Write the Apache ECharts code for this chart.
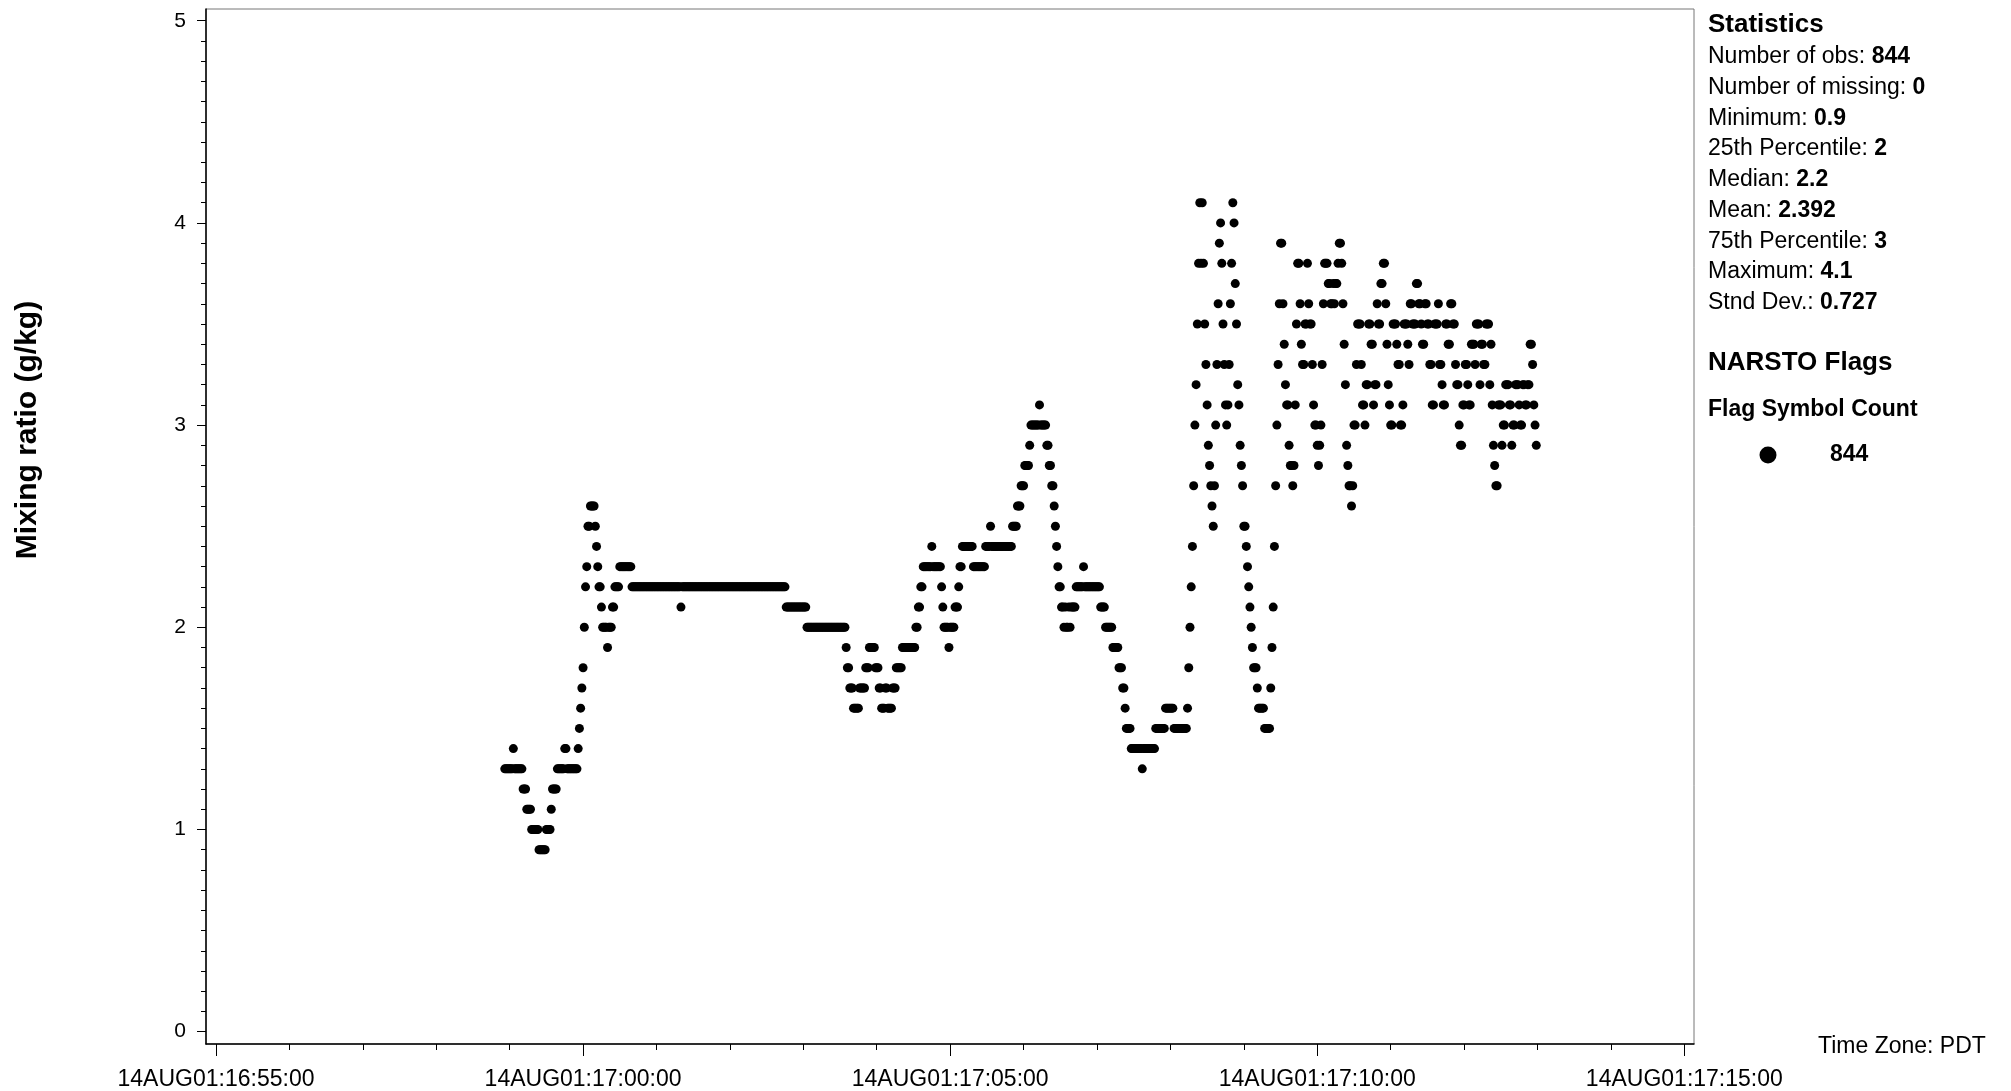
<!DOCTYPE html>
<html>
<head>
<meta charset="utf-8">
<script src="https://cdn.jsdelivr.net/npm/echarts@6/dist/echarts.min.js"></script>
<style>
html,body{margin:0;padding:0;background:#fff;}
#c{width:2011px;height:1091px;}
</style>
</head>
<body>
<div id="c"></div>
<script>
// ---- DATA ----
// observation times: one per second, first at 16:58:56 (seconds after 16:55:00)
const firstObsSec = 236;

const obsSeg1 = [1.3,1.3,1.3,1.3,1.3,1.3,1.3,1.4,1.3,1.3,
1.3,1.3,1.3,1.3,1.3,1.2,1.2,1.2,1.1,1.1,
1.1,1.1,1.0,1.0,1.0,1.0,1.0,1.0,0.9,0.9,
0.9,0.9,0.9,0.9,1.0,1.0,1.0,1.0,1.1,1.2,
1.2,1.2,1.2,1.3,1.3,1.3,1.3,1.3,1.3,1.4,
1.4,1.3,1.3,1.3,1.3,1.3,1.3,1.3,1.3,1.3,
1.4];
const obsSeg2 = [1.5,1.6,1.7,1.8,2.0,2.2,2.3,2.5,2.5,2.6,
2.6,2.6,2.6,2.5,2.4,2.3,2.2,2.2,2.1,2.0,
2.0,2.0,2.0,1.9,2.0,2.0,2.0,2.1,2.1,2.2,
2.2,2.2,2.2,2.3,2.3,2.3,2.3,2.3,2.3,2.3,
2.3,2.3,2.3];
const obsSeg3 = [2.2,2.2,2.2,2.2,2.2,2.2,2.2,2.2,2.2,2.2,
2.2,2.2,2.2,2.2,2.2,2.2,2.2,2.2,2.2,2.2,
2.2,2.2,2.2,2.2,2.2,2.2,2.2,2.2,2.2,2.2,
2.2,2.2,2.2,2.2,2.2,2.2,2.2,2.2,2.2,2.2,
2.1,
2.2,2.2,2.2,2.2,2.2,2.2,2.2,2.2,2.2,2.2,
2.2,2.2,2.2,2.2,2.2,2.2,2.2,2.2,2.2,2.2,
2.2,2.2,2.2,2.2,2.2,2.2,2.2,2.2,2.2,2.2,
2.2,2.2,2.2,2.2,2.2,2.2,2.2,2.2,2.2,2.2,
2.2,2.2,2.2,2.2,2.2,2.2,2.2,2.2,2.2,2.2,
2.2,2.2,2.2,2.2,2.2,2.2,2.2,2.2,2.2,2.2,
2.2,2.2,2.2,2.2,2.2,2.2,2.2,2.2,2.2,2.2,
2.2,2.2,2.2,2.2,2.2,2.2,2.2,2.2,2.2,2.2,
2.2,2.2,2.2,2.2,2.2];
const obsSeg4 = [2.1,2.1,2.1,2.1,2.1,2.1,2.1,2.1,2.1,2.1,
2.1,2.1,2.1,2.1,2.1,2.1,2.1];
const obsSeg5 = [2.0,2.0,2.0,2.0,2.0,2.0,2.0,2.0,2.0,2.0,
2.0,2.0,2.0,2.0,2.0,2.0,2.0,2.0,2.0,2.0,
2.0,2.0,2.0,2.0,2.0,2.0,2.0,2.0,2.0,2.0,
2.0,2.0];
const obsSeg6 = [1.9,1.8,1.8,1.7,1.7,1.7,1.6,1.6,1.6,1.6,
1.6,1.7,1.7,1.7,1.7,1.7,1.8,1.8,1.8,1.9,
1.9,1.9,1.9,1.9,1.8,1.8,1.8,1.7,1.7,1.6,
1.6,1.6,1.7,1.7,1.6,1.6,1.6,1.6,1.7,1.7,
1.7,1.8,1.8,1.8,1.8,1.8,1.9,1.9,1.9,1.9,
1.9,1.9,1.9,1.9,1.9,1.9,1.9];
const obsSeg7 = [2.0,2.0,2.1,2.1,2.2,2.2,2.3,2.3,2.3,2.3,
2.3,2.3,2.3,2.4,2.3,2.3,2.3,2.3,2.3,2.3,
2.3,2.2,2.1,2.0,2.0,2.0,2.0,1.9,2.0,2.0,
2.0,2.0,2.1,2.1,2.1,2.2,2.3,2.3,2.4,2.4,
2.4,2.4,2.4,2.4,2.4,2.4,2.4,2.3,2.3,2.3,
2.3,2.3,2.3,2.3,2.3,2.3,2.3,2.4,2.4,2.4,
2.4,2.5,2.4,2.4,2.4,2.4,2.4,2.4,2.4,2.4,
2.4,2.4,2.4,2.4,2.4,2.4,2.4,2.4,2.4,2.5,
2.5,2.5,2.5,2.6,2.6,2.6,2.7,2.7,2.7,2.8,
2.8,2.8,2.8,2.9,3.0,3.0,3.0,3.0,3.0,3.0,
3.0,3.1,3.0,3.0,3.0,3.0,3.0,2.9,2.9,2.8,
2.8,2.7,2.7,2.6,2.5,2.4,2.3,2.2,2.2,2.1,
2.1,2.0,2.1,2.0,2.0,2.1,2.0,2.1,2.1,2.1,
2.1,2.2,2.2,2.2,2.2,2.2,2.2,2.3,2.2,2.2,
2.2,2.2,2.2,2.2,2.2,2.2,2.2,2.2,2.2,2.2,
2.2,2.1,2.1,2.1,2.1,2.0,2.0,2.0,2.0,2.0,
2.0,1.9,1.9,1.9,1.9,1.9,1.8,1.8,1.8,1.7,
1.7,1.6,1.5,1.5,1.5,1.5];
const obsSeg8 = [1.4,1.4,1.4,1.4,1.4,1.4,1.4,1.4,1.4,1.3,
1.4,1.4,1.4,1.4,1.4,1.4,1.4,1.4,1.4,1.4,
1.5,1.5,1.5,1.5,1.5,1.5,1.5,1.5,1.6,1.6,
1.6,1.6,1.6,1.6,1.6,1.5,1.5,1.5,1.5,1.5,
1.5,1.5,1.5,1.5,1.5,1.5];
const obsSeg9 = [1.6,1.8,2.0,2.2,2.4,2.7,3.0,3.2,3.5,3.8,
4.1,3.8,4.1,3.8,3.5,3.3,3.1,2.9,2.8,2.7,
2.6,2.5,2.7,3.0,3.3,3.6,3.9,4.0,3.8,3.5,
3.3,3.1,3.0,3.1,3.3,3.6,3.8,4.1,4.0,3.7,
3.5,3.2,3.1,2.9,2.8,2.7,2.5,2.5,2.4,2.3,
2.2,2.1,2.0,1.9,1.8,1.8,1.8,1.7,1.6,1.6,
1.6,1.6,1.6,1.5,1.5,1.5,1.5,1.5];
const obsSeg10 = [1.7,1.9,2.1,2.4,2.7,3.0,3.3,3.6,3.9,3.9,
3.6,3.4,3.2,3.1,3.1,2.9,2.8,2.8,2.7,2.8,
3.1,3.5,3.8,3.8,3.6,3.4,3.3,3.3,3.5,3.5,
3.8,3.6,3.5,3.5,3.3,3.1,3.0,3.0,2.9,2.8,
2.9,3.0,3.3,3.6,3.8,3.8,3.8,3.7,3.7,3.6,
3.6,3.7,3.6,3.7];
const obsSeg11 = [3.7,3.8,3.9,3.9,3.8,3.6,3.4,3.2,2.9,2.8,
2.7,2.7,2.6,2.7,3.0,3.0,3.3,3.5,3.5,3.5,
3.3,3.1,3.1,3.0,3.2,3.2,3.5,3.5,3.4,3.4,
3.1,3.2,3.2,3.6,3.5,3.5,3.7,3.7,3.8,3.8,
3.6,3.4,3.2,3.1,3.0,3.0,3.5,3.5,3.5,3.4,
3.3,3.3,3.0,3.0,3.1,3.5,3.5,3.5,3.4,3.3,
3.6,3.6,3.5,3.5,3.5,3.7,3.7,3.6,3.6,3.5,
3.4,3.4,3.6,3.6,3.5,3.5,3.3,3.3,3.1,3.1,
3.5,3.5,3.5,3.6,3.3,3.3,3.2,3.1,3.1,3.5,
3.5,3.4,3.4,3.6,3.6,3.5,3.5,3.3,3.2,3.2,
3.0,2.9,2.9,3.1,3.1,3.3,3.3,3.2,3.1,3.1,
3.4,3.4,3.4,3.3,3.5,3.5,3.5,3.2,3.4,3.4,
3.3,3.3,3.5,3.5,3.5,3.2,3.4,3.1,2.9,2.8,
2.7,2.7,3.1,3.1,3.1,2.9,3.0,3.0,3.2,3.2,
3.2,3.1,3.1,2.9,3.0,3.0,3.2,3.2,3.2,3.1,
3.0,3.0,3.2,3.2,3.1,3.1,3.2,3.2,3.4,3.4,
3.3,3.1,3.0,2.9];

// axis ticks (seconds after 16:55:00)
const xMajorTickSecs = [0, 300, 600, 900, 1200];
const xTickLabels = ['14AUG01:16:55:00','14AUG01:17:00:00','14AUG01:17:05:00','14AUG01:17:10:00','14AUG01:17:15:00'];
const xMinorTickSecs = [0,60,120,180,240,300,360,420,480,540,600,660,720,780,840,900,960,1020,1080,1140,1200];
const yMajorTicks = [0,1,2,3,4,5];
const yTickLabels = ['0','1','2','3','4','5'];

// statistics panel
const statNames = ['Number of obs: ','Number of missing: ','Minimum: ','25th Percentile: ','Median: ','Mean: ','75th Percentile: ','Maximum: ','Stnd Dev.: '];
const statValues = ['844','0','0.9','2','2.2','2.392','3','4.1','0.727'];
const flagCount = '844';

// ---- CHART ----
const values = [].concat(obsSeg1, obsSeg2, obsSeg3, obsSeg4, obsSeg5, obsSeg6, obsSeg7, obsSeg8, obsSeg9, obsSeg10, obsSeg11);
const points = values.map((v, i) => [firstObsSec + i, v]);

const yMinorTicks = [];
for (let k = 0; k <= 50; k++) yMinorTicks.push(k / 10);

const FONT = "'Liberation Sans', Arial, Helvetica, sans-serif";
const X_MIN = -8.17, X_MAX = 1207.9;
const Y_MIN = -0.061, Y_MAX = 5.058;

const chart = echarts.init(document.getElementById('c'), null, {renderer: 'canvas'});

const graphics = [];
graphics.push({type:'text', x:1708, y:25, style:{text:'Statistics', fontFamily:FONT, fontSize:26, fontWeight:'bold', fill:'#000', align:'left', verticalAlign:'middle'}});
statNames.forEach((n, i) => {
  graphics.push({type:'text', x:1708, y:57 + i*30.7, style:{
    text:'{n|' + n + '}{b|' + statValues[i] + '}',
    align:'left', verticalAlign:'middle',
    rich:{ n:{fontFamily:FONT, fontSize:23, fill:'#000', fontWeight:'normal'}, b:{fontFamily:FONT, fontSize:23, fill:'#000', fontWeight:'bold'} }
  }});
});
graphics.push({type:'text', x:1708, y:363, style:{text:'NARSTO Flags', fontFamily:FONT, fontSize:26, fontWeight:'bold', fill:'#000', align:'left', verticalAlign:'middle'}});
graphics.push({type:'text', x:1708, y:410, style:{text:'Flag Symbol Count', fontFamily:FONT, fontSize:23, fontWeight:'bold', fill:'#000', align:'left', verticalAlign:'middle'}});
graphics.push({type:'circle', shape:{cx:1768, cy:455, r:8.5}, style:{fill:'#000'}});
graphics.push({type:'text', x:1830, y:455, style:{text:flagCount, fontFamily:FONT, fontSize:23, fontWeight:'bold', fill:'#000', align:'left', verticalAlign:'middle'}});
graphics.push({type:'text', x:1818, y:1047, style:{text:'Time Zone: PDT', fontFamily:FONT, fontSize:23, fill:'#000', align:'left', verticalAlign:'middle'}});
graphics.push({type:'text', x:28, y:430, rotation:Math.PI/2, style:{text:'Mixing ratio (g/kg)', fontFamily:FONT, fontSize:30, fontWeight:'bold', fill:'#000', align:'center', verticalAlign:'middle'}});

const option = {
  backgroundColor:'#fff',
  animation:false,
  grid:{left:206, top:9, width:1488, height:1036, show:true, borderColor:'#777', borderWidth:1, backgroundColor:'transparent'},
  xAxis:[
    {type:'value', min:X_MIN, max:X_MAX, position:'bottom',
     axisLine:{show:true, onZero:false, lineStyle:{color:'#000', width:1.5}},
     axisTick:{show:true, customValues:xMajorTickSecs, length:12, lineStyle:{color:'#000', width:1}},
     axisLabel:{show:true, customValues:xMajorTickSecs, margin:24, fontFamily:FONT, fontSize:23, color:'#000',
       formatter:function(v){ const i = xMajorTickSecs.indexOf(Math.round(v)); return i >= 0 ? xTickLabels[i] : ''; }},
     splitLine:{show:false}},
    {type:'value', min:X_MIN, max:X_MAX, position:'bottom',
     axisLine:{show:false, onZero:false},
     axisTick:{show:true, customValues:xMinorTickSecs, length:6, lineStyle:{color:'#000', width:1}},
     axisLabel:{show:false}, splitLine:{show:false}}
  ],
  yAxis:[
    {type:'value', min:Y_MIN, max:Y_MAX, position:'left',
     axisLine:{show:true, onZero:false, lineStyle:{color:'#000', width:1.5}},
     axisTick:{show:true, customValues:yMajorTicks, length:9, lineStyle:{color:'#000', width:1}},
     axisLabel:{show:true, customValues:yMajorTicks, margin:20, fontFamily:FONT, fontSize:21, color:'#000',
       formatter:function(v){ const i = yMajorTicks.indexOf(Math.round(v)); return i >= 0 ? yTickLabels[i] : ''; }},
     splitLine:{show:false}},
    {type:'value', min:Y_MIN, max:Y_MAX, position:'left',
     axisLine:{show:false, onZero:false},
     axisTick:{show:true, customValues:yMinorTicks, length:5, lineStyle:{color:'#000', width:1}},
     axisLabel:{show:false}, splitLine:{show:false}}
  ],
  series:[{
    type:'scatter', xAxisIndex:0, yAxisIndex:0,
    data:points, symbol:'circle', symbolSize:9,
    itemStyle:{color:'#000', opacity:1}, silent:true
  }],
  graphic:graphics
};
chart.setOption(option);
</script>
</body>
</html>
